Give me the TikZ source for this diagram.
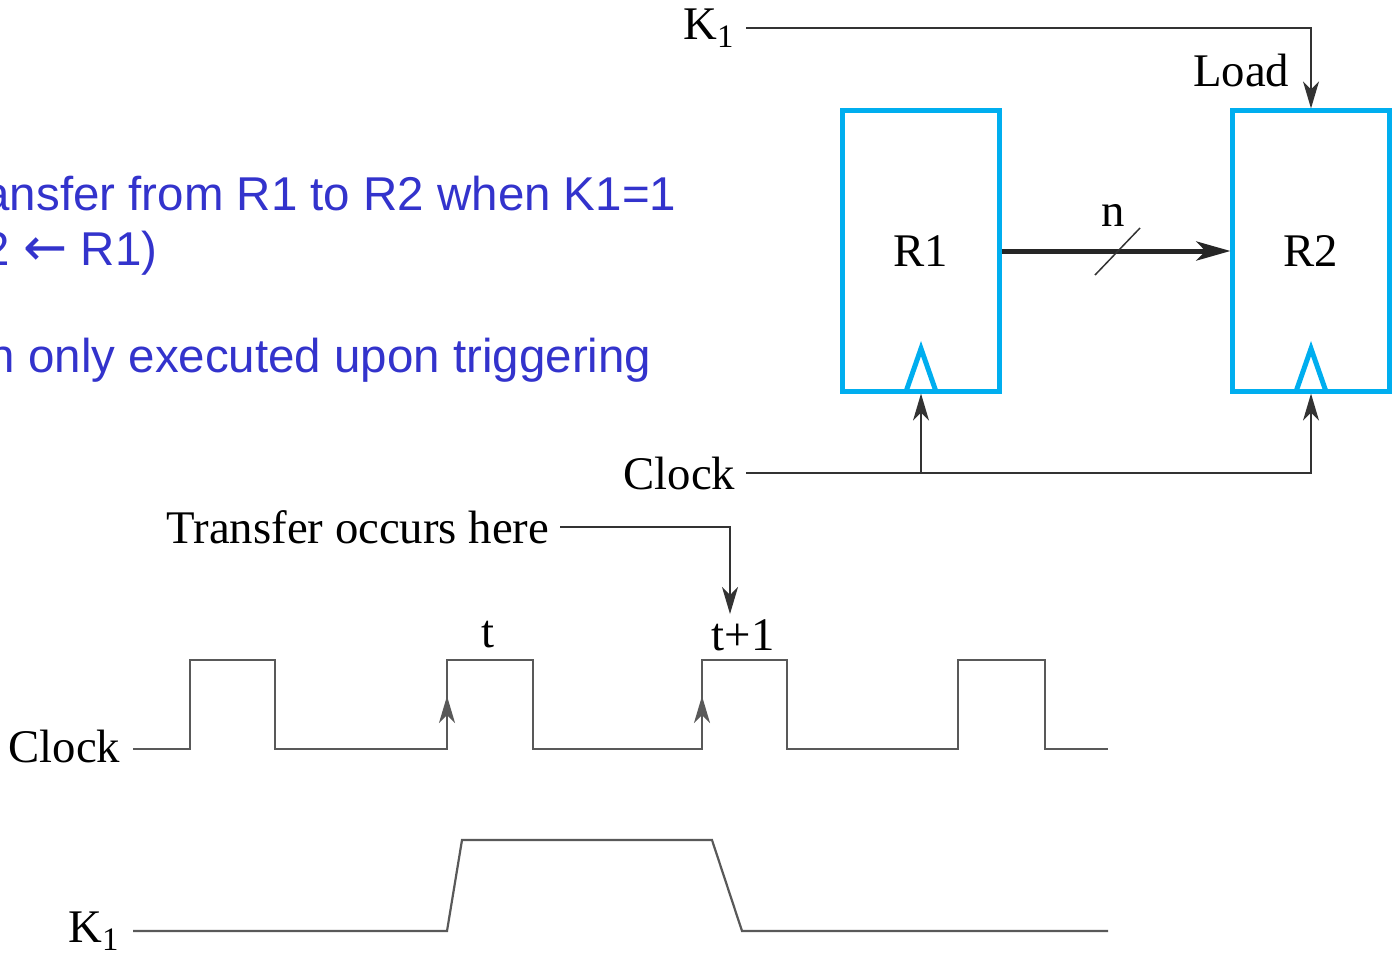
\documentclass[tikz,border=0pt]{standalone}
\usepackage{fontspec}
\setmainfont{Liberation Serif}
\newfontfamily\notefont{Liberation Sans}
\newfontfamily\arrowfont{DejaVu Sans}
\usetikzlibrary{arrows.meta,positioning}
\definecolor{regblue}{RGB}{0,174,239}
\definecolor{noteblue}{RGB}{51,51,204}

\begin{document}
\begin{tikzpicture}[x=0.01cm,y=-0.01cm,
    reg/.style={draw=regblue,line width=0.05cm,minimum width=1.56cm,minimum height=2.80cm,inner sep=0,font=\fontsize{13.3}{16}\selectfont},
    wire/.style={draw=black!80,line width=0.015cm},
    wave/.style={draw=black!65,line width=0.022cm},
    tip/.style={-{Stealth[length=0.27cm,width=0.16cm,inset=0.08cm]}},
    lbl/.style={font=\fontsize{13.3}{16}\selectfont,inner sep=0},
    note/.style={font=\notefont\fontsize{13.5}{16}\selectfont,text=noteblue,inner sep=0,anchor=base east}]
    \useasboundingbox (0,0) rectangle (1397,954);
    \clip (0,0) rectangle (1397,954);
    % notes (cut at the left edge)
    \node[note] (noteone) at (677,210) {ansfer from R1 to R2 when K1=1};
    \node[note] (notetwo) at (158,265) {2 {\arrowfont\fontsize{15}{16}\selectfont ←} R1)};
    \node[note] (notethree) at (652,372) {n only executed upon triggering};
    % registers
    \node[reg] (r1) at (921,251) {R1};
    \node[reg] (r2) at (1311,251) {R2};
    \draw[draw=regblue,line width=0.05cm] (r1.south) ++(-15,-2) -- ++(15,-43) -- ++(15,43);
    \draw[draw=regblue,line width=0.05cm] (r2.south) ++(-15,-2) -- ++(15,-43) -- ++(15,43);
    \draw[line width=0.05cm,draw=black!85,-{Stealth[length=0.34cm,width=0.19cm,inset=0.09cm]}] (r1.east) -- (r2.west);
    \draw[wire] (1095,275) -- (1140,228);
    \node[lbl] (nbits) at (1113,215) {n};
    % load line
    \node[lbl,anchor=east] (k1top) at (736,28) {K\textsubscript{1}};
    \node[lbl,anchor=east] (load) at (1290,70) {Load};
    \draw[wire,tip] ([xshift=0.1cm]k1top.east) -| (r2.north);
    % clock lines
    \node[lbl,anchor=east] (clktop) at (736,473) {Clock};
    \coordinate (tap) at (r1.south |- clktop.east);
    \draw[wire,tip] ([xshift=0.1cm]clktop.east) -| (r2.south);
    \draw[wire,tip] (tap) -- (r1.south);
    % timing
    \node[lbl,anchor=east] (xfer) at (550,527) {Transfer occurs here};
    \coordinate (xferpt) at (730,614);
    \draw[wire,tip] ([xshift=0.1cm]xfer.east) -| (xferpt);
    \node[lbl] (tnow) at (488,635) {t};
    \node[lbl] (tnext) at (743,635) {t+1};
    \node[lbl,anchor=east] (clkw) at (121,746) {Clock};
    \draw[wave] (133,749) -- (190,749) -- (190,660) -- (275,660) -- (275,749) -- (447,749)
        -- (447,660) -- (533,660) -- (533,749) -- (702,749) -- (702,660) -- (787,660)
        -- (787,749) -- (958,749) -- (958,660) -- (1045,660) -- (1045,749) -- (1108,749);
    \draw[wave,tip] (447,749) -- (447,696);
    \draw[wave,tip] (702,749) -- (702,696);
    \node[lbl,anchor=east] (k1w) at (121,931) {K\textsubscript{1}};
    \draw[wave] (133,931) -- (447,931) -- (462,840) -- (712,840) -- (742,931) -- (1108,931);
\end{tikzpicture}
\end{document}
